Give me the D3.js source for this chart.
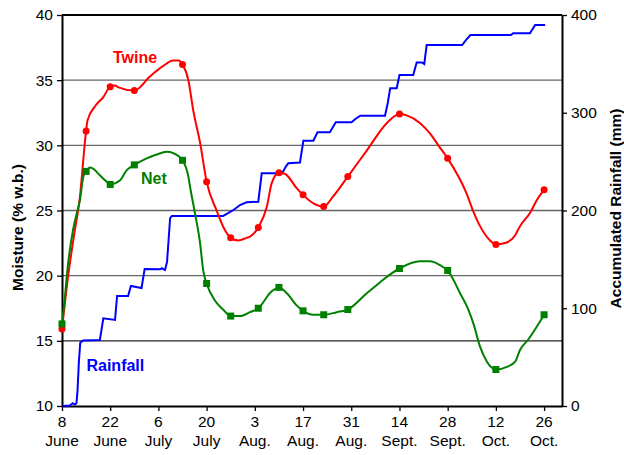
<!DOCTYPE html>
<html>
<head>
<meta charset="utf-8">
<script src="https://cdn.jsdelivr.net/npm/d3@7"></script>
<style>
  body { margin: 0; background: #fff; }
  svg { display: block; font-family: "Liberation Sans", Arial, sans-serif; }
</style>
</head>
<body>
<div id="chart"></div>
<script>
// Moisture of twine- and net-wrapped bales vs accumulated rainfall
// x values are days after 8 June

const tickDays = [0, 14, 28, 42, 56, 70, 84, 98, 112, 126, 140];
const tickDayLabels = ["8", "22", "6", "20", "3", "17", "31", "14", "28", "12", "26"];
const tickMonthLabels = ["June", "June", "July", "July", "Aug.", "Aug.", "Aug.", "Sept.", "Sept.", "Oct.", "Oct."];
const moistureTicks = [10, 15, 20, 25, 30, 35, 40];
const rainTicks = [0, 100, 200, 300, 400];

// sampling days with markers
const markerDays = [0, 7, 14, 21, 35, 42, 49, 57, 63, 70, 76, 83, 98, 112, 126, 140];
const twineMarkers = [15.9, 31.1, 34.5, 34.2, 36.2, 27.2, 22.9, 23.7, 27.9, 26.2, 25.3, 27.6, 32.4, 29.0, 22.4, 26.6];
const netMarkers = [16.3, 28.0, 27.0, 28.5, 28.85, 19.4, 16.9, 17.5, 19.1, 17.3, 17.0, 17.4, 20.55, 20.4, 12.8, 17.0];

// smoothed curves [day, moisture %]
const twineCurve = [[0,15.9],[1.8,20.0],[3.5,23.1],[5.1,25.8],[7,31.1],[7.4,31.9],[9.6,33.0],[12,33.7],[14,34.5],
  [15.4,34.6],[16.4,34.45],[21,34.2],[25.6,35.3],[29.4,36.1],[32.3,36.5],[33.8,36.5],[35,36.2],[36.7,35.0],
  [38.1,32.7],[40.1,30.2],[42,27.2],[44.9,25.0],[47.3,23.5],[49,22.9],[51.2,22.7],[53.6,22.9],[54.6,23.0],
  [57,23.7],[59.5,25.3],[60.9,27.1],[63,27.9],[64.8,27.8],[68.2,26.7],[70,26.2],[73,25.55],[76,25.3],
  [78.8,26.1],[83,27.6],[88.5,29.6],[94.3,31.7],[98,32.4],[100.1,32.3],[104,31.7],[106.9,30.9],[109.3,30.0],
  [112,29.0],[117.5,26.3],[119.5,24.9],[121.4,23.8],[124.3,22.7],[126,22.4],[128.7,22.5],[131.6,23.1],
  [133,23.8],[135.9,24.8],[137.9,25.8],[140,26.6]];

const netCurve = [[0,16.3],[0.9,18.5],[1.4,20.0],[3.2,23.5],[4.4,24.9],[5.2,25.8],[6.2,27.6],[7,28.0],[8.1,28.3],
  [9.1,28.2],[11,27.7],[13,27.2],[14,27.0],[16.8,27.3],[18.8,28.1],[21,28.5],[24.6,29.0],[27.5,29.3],[30.4,29.5],
  [32.3,29.4],[35,28.85],[36.7,27.6],[37.2,26.8],[38.6,24.8],[40.1,22.5],[41,20.4],[42,19.4],[44.4,18.1],
  [46.8,17.4],[49,16.9],[51.7,16.9],[54.6,17.2],[57,17.5],[60.9,18.8],[63,19.1],[65.3,18.65],[68.2,17.7],
  [70,17.3],[73,17.0],[76,17.0],[79.8,17.2],[83,17.4],[88.5,18.65],[92.4,19.5],[95.3,20.1],[98,20.55],
  [104,21.1],[106.9,21.1],[109.8,20.8],[112,20.4],[115.6,18.65],[118,17.4],[119.5,16.3],[121.4,14.55],
  [123.4,13.4],[126,12.8],[129.2,13.0],[131.6,13.4],[133,14.3],[135.4,15.1],[137.9,16.1],[140,17.0]];

// accumulated rainfall [day, mm]
const rainfall = [[0.1,0],[2.3,0.5],[3.1,2.8],[3.8,1.5],[4.2,3],[4.5,15],[4.9,45],[5.3,64.8],[6.1,67],[11.0,67.5],
  [12.0,89.7],[15.4,88],[16.0,112.5],[19.2,112.5],[20.0,122.8],[23.1,120.7],[24.0,140.2],[28.5,139.8],
  [29.0,140.9],[29.9,139.1],[30.5,147.3],[31.4,192.3],[31.9,194.4],[46.8,194.4],[49.8,200.5],[51.7,205.6],
  [53.6,208.4],[57.0,209],[58.0,238],[63.9,238],[65.1,245.5],[65.7,248.3],[69.1,249.1],[70.1,271.4],
  [73.0,271.4],[74.2,280],[77.8,280],[79.5,290.2],[84.1,290.2],[85.1,293.3],[86.6,297],[93.8,297],
  [94.6,310],[95.3,325],[97.2,325],[98.0,338.6],[102.0,338.6],[103.0,351.4],[104.5,351.4],[105.2,349.9],
  [105.9,369.3],[116.2,369.3],[117.3,374.4],[118.6,379.5],[130.4,379.5],[131.0,381.3],[135.9,381.3],
  [137.4,389.8],[140.3,389.8]];

const margin = {top: 15, right: 62, bottom: 49, left: 62},
    width = 624 - margin.left - margin.right,
    height = 455 - margin.top - margin.bottom;

const svg = d3.select("#chart")
    .append("svg")
    .attr("width", 624)
    .attr("height", 455)
    .append("g")
    .attr("transform", `translate(${margin.left},${margin.top})`);

const x = d3.scaleLinear().domain([0, 145.2]).range([0, width]);
const y = d3.scaleLinear().domain([10, 40]).range([height, 0]);
const yRain = d3.scaleLinear().domain([0, 400]).range([height, 0]);

// gridlines
svg.append("g")
    .selectAll("line")
    .data(moistureTicks.filter(d => d > 10 && d < 40))
    .enter()
    .append("line")
    .attr("x1", 0)
    .attr("x2", width)
    .attr("y1", d => y(d))
    .attr("y2", d => y(d))
    .attr("stroke", d => d === 15 ? "#222" : "#666")
    .attr("stroke-width", 1.3);

// top border
svg.append("line")
    .attr("x1", 0).attr("x2", width)
    .attr("y1", 0).attr("y2", 0)
    .attr("stroke", "#000").attr("stroke-width", 2);

// axes
const xAxis = svg.append("g")
    .attr("transform", `translate(0,${height})`)
    .call(d3.axisBottom(x).tickValues(tickDays).tickSize(5).tickSizeOuter(0).tickFormat(""));
xAxis.selectAll("text").remove();
tickDays.forEach((d, i) => {
    xAxis.append("text")
        .attr("x", x(d))
        .attr("y", 21)
        .attr("text-anchor", "middle")
        .attr("font-size", 15.5)
        .attr("fill", "#000")
        .text(tickDayLabels[i]);
    xAxis.append("text")
        .attr("x", x(d))
        .attr("y", 40)
        .attr("text-anchor", "middle")
        .attr("font-size", 15.5)
        .attr("fill", "#000")
        .text(tickMonthLabels[i]);
});

const yAxis = svg.append("g")
    .call(d3.axisLeft(y).tickValues(moistureTicks).tickSize(5).tickSizeOuter(0).tickPadding(4));
const yAxisR = svg.append("g")
    .attr("transform", `translate(${width},0)`)
    .call(d3.axisRight(yRain).tickValues(rainTicks).tickSize(5).tickSizeOuter(0).tickPadding(4));

[xAxis, yAxis, yAxisR].forEach(a => {
    a.select(".domain").attr("stroke", "#000").attr("stroke-width", 2);
    a.selectAll(".tick line").attr("stroke", "#000").attr("stroke-width", 1.3);
    a.selectAll(".tick text").attr("font-size", 15.5).attr("fill", "#000")
        .style("font-family", "'Liberation Sans', Arial, sans-serif");
});

// axis titles
svg.append("text")
    .attr("transform", "rotate(-90)")
    .attr("x", -y(23.7))
    .attr("y", -39)
    .attr("text-anchor", "middle")
    .attr("font-size", 15.5)
    .attr("font-weight", "bold")
    .text("Moisture (% w.b.)");

svg.append("text")
    .attr("transform", "rotate(-90)")
    .attr("x", -yRain(202))
    .attr("y", width + 59)
    .attr("text-anchor", "middle")
    .attr("font-size", 15.5)
    .attr("font-weight", "bold")
    .text("Accumulated Rainfall (mm)");

// rainfall line
svg.append("path")
    .datum(rainfall)
    .attr("fill", "none")
    .attr("stroke", "#0000ff")
    .attr("stroke-width", 2)
    .attr("d", d3.line().x(d => x(d[0])).y(d => yRain(d[1])));

const smooth = d3.line().curve(d3.curveMonotoneX).x(d => x(d[0])).y(d => y(d[1]));

// twine
svg.append("path")
    .datum(twineCurve)
    .attr("fill", "none")
    .attr("stroke", "#ff0000")
    .attr("stroke-width", 2)
    .attr("d", smooth);
svg.selectAll(".twine")
    .data(markerDays)
    .enter()
    .append("circle")
    .attr("class", "twine")
    .attr("cx", d => x(d))
    .attr("cy", (d, i) => y(twineMarkers[i]))
    .attr("r", 3.5)
    .attr("fill", "#ff0000");

// net
svg.append("path")
    .datum(netCurve)
    .attr("fill", "none")
    .attr("stroke", "#008000")
    .attr("stroke-width", 2)
    .attr("d", smooth);
svg.selectAll(".net")
    .data(markerDays)
    .enter()
    .append("rect")
    .attr("class", "net")
    .attr("x", d => x(d) - 3.5)
    .attr("y", (d, i) => y(netMarkers[i]) - 3.5)
    .attr("width", 7)
    .attr("height", 7)
    .attr("fill", "#008000");

// series labels
svg.append("text")
    .attr("x", x(21.2))
    .attr("y", y(36.3))
    .attr("text-anchor", "middle")
    .attr("font-size", 16)
    .attr("font-weight", "bold")
    .attr("fill", "#ff0000")
    .text("Twine");

svg.append("text")
    .attr("x", x(26.7))
    .attr("y", y(27.0))
    .attr("text-anchor", "middle")
    .attr("font-size", 16)
    .attr("font-weight", "bold")
    .attr("fill", "#008000")
    .text("Net");

svg.append("text")
    .attr("x", x(15.5))
    .attr("y", y(12.7))
    .attr("text-anchor", "middle")
    .attr("font-size", 16)
    .attr("font-weight", "bold")
    .attr("fill", "#0000ff")
    .text("Rainfall");
</script>
</body>
</html>
